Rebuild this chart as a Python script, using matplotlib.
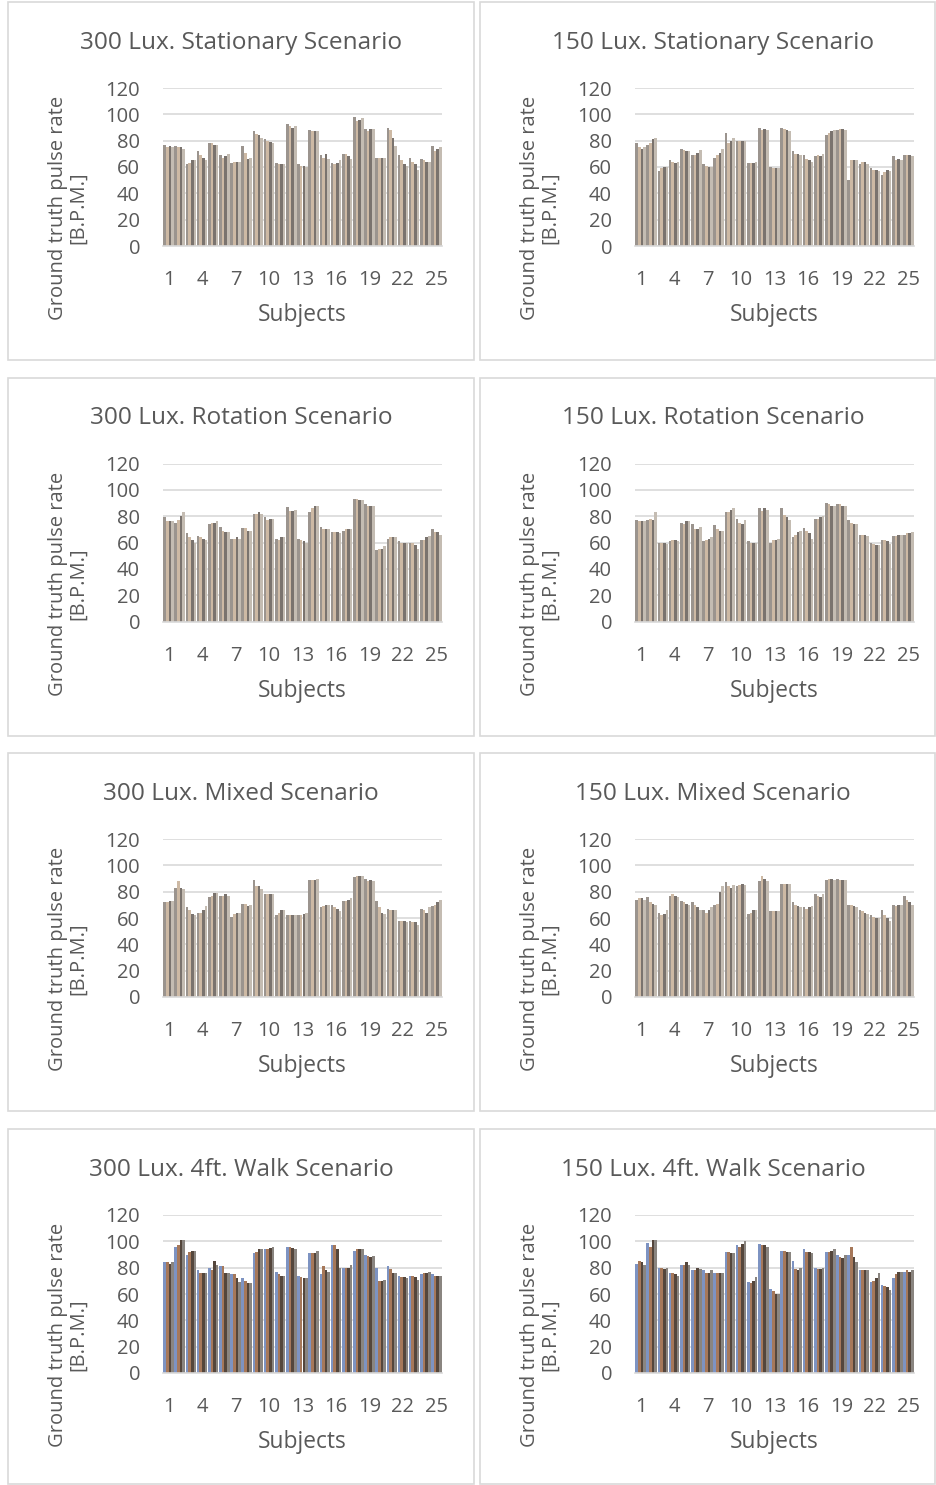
import numpy as np
import matplotlib.pyplot as plt
from matplotlib.patches import Rectangle

# ── Data: 25 subjects, 4 readings per subject ──────────────────────
subjects = list(range(1, 26))
tick_subjects = [1, 4, 7, 10, 13, 16, 19, 22, 25]

stat_300 = [
    [77, 75, 76, 75], [76, 75, 75, 74], [62, 63, 65, 65], [72, 69, 67, 65], [78, 78, 77, 77],
    [69, 67, 68, 70], [63, 64, 64, 64], [76, 71, 66, 67], [87, 85, 84, 82], [81, 80, 79, 78],
    [63, 62, 62, 62], [93, 91, 90, 91], [62, 61, 61, 60], [88, 87, 87, 87], [69, 67, 70, 66],
    [63, 62, 63, 65], [70, 70, 68, 66], [98, 95, 96, 97], [89, 87, 89, 89], [67, 67, 67, 67],
    [90, 88, 82, 76], [69, 65, 62, 61], [67, 64, 62, 58], [66, 65, 64, 64], [76, 72, 74, 75],
]
stat_150 = [
    [78, 75, 74, 75], [77, 78, 81, 82], [57, 59, 60, 60], [65, 64, 63, 64], [74, 73, 72, 72],
    [69, 69, 71, 73], [62, 61, 60, 60], [67, 69, 71, 74], [86, 78, 80, 82], [80, 80, 80, 80],
    [63, 63, 63, 64], [90, 88, 89, 88], [60, 59, 59, 59], [90, 89, 88, 87], [72, 70, 70, 69],
    [69, 66, 65, 64], [68, 69, 68, 70], [84, 86, 87, 88], [88, 89, 89, 88], [50, 65, 65, 65],
    [62, 64, 64, 62], [59, 58, 58, 57], [54, 56, 58, 57], [68, 65, 66, 65], [69, 69, 69, 68],
]
rot_300 = [
    [79, 76, 76, 76], [75, 77, 80, 83], [67, 64, 62, 60], [65, 64, 63, 62], [74, 75, 75, 76],
    [72, 69, 68, 68], [63, 63, 64, 63], [71, 71, 69, 69], [82, 82, 83, 82], [79, 77, 78, 78],
    [63, 62, 64, 64], [87, 84, 84, 85], [63, 62, 61, 60], [83, 86, 88, 88], [72, 70, 70, 70],
    [68, 68, 68, 67], [69, 70, 70, 70], [93, 93, 92, 92], [89, 88, 88, 88], [54, 55, 55, 57],
    [63, 64, 64, 64], [61, 60, 60, 60], [60, 60, 58, 55], [62, 62, 64, 65], [70, 68, 68, 66],
]
rot_150 = [
    [77, 76, 76, 76], [77, 78, 77, 83], [60, 60, 60, 59], [61, 62, 62, 61], [75, 74, 76, 76],
    [74, 70, 70, 72], [61, 62, 63, 64], [73, 70, 69, 69], [83, 83, 85, 86], [78, 75, 74, 77],
    [61, 60, 60, 60], [86, 84, 86, 85], [60, 62, 62, 63], [86, 81, 79, 77], [64, 66, 68, 69],
    [71, 69, 67, 63], [78, 78, 79, 80], [90, 89, 88, 88], [89, 89, 88, 88], [77, 75, 74, 74],
    [66, 66, 66, 65], [60, 59, 58, 58], [62, 62, 61, 59], [65, 65, 66, 66], [66, 67, 67, 68],
]
mix_300 = [
    [72, 72, 73, 73], [83, 88, 83, 82], [68, 66, 63, 62], [64, 64, 66, 69], [76, 77, 79, 79],
    [77, 77, 78, 77], [61, 63, 64, 64], [71, 71, 69, 70], [89, 84, 84, 82], [78, 78, 78, 78],
    [62, 64, 66, 66], [62, 62, 62, 62], [62, 62, 63, 64], [89, 89, 89, 90], [68, 69, 70, 70],
    [70, 68, 67, 65], [73, 73, 74, 75], [91, 92, 92, 92], [90, 88, 89, 88], [73, 68, 64, 63],
    [67, 66, 66, 66], [58, 58, 58, 57], [58, 57, 57, 55], [67, 66, 64, 68], [69, 70, 72, 74],
]
mix_150 = [
    [74, 75, 75, 74], [76, 72, 71, 70], [64, 62, 63, 66], [77, 78, 77, 76], [73, 72, 71, 70],
    [72, 70, 68, 66], [66, 64, 66, 68], [70, 71, 80, 84], [87, 84, 83, 85], [84, 85, 86, 85],
    [63, 64, 66, 66], [88, 92, 90, 88], [65, 65, 65, 65], [86, 86, 86, 86], [72, 70, 69, 68],
    [68, 67, 68, 69], [78, 77, 76, 78], [89, 90, 90, 89], [90, 89, 89, 89], [70, 70, 69, 68],
    [66, 65, 64, 63], [62, 61, 60, 60], [66, 62, 60, 58], [70, 69, 70, 70], [77, 74, 72, 70],
]
walk_300 = [
    [84, 84, 83, 84], [96, 97, 101, 101], [90, 92, 93, 93], [78, 76, 76, 76], [80, 78, 85, 82],
    [81, 81, 76, 76], [75, 75, 72, 69], [72, 70, 68, 68], [91, 92, 94, 94], [94, 94, 95, 96],
    [77, 75, 74, 74], [96, 96, 95, 94], [74, 73, 72, 72], [91, 91, 91, 93], [75, 81, 78, 77],
    [97, 97, 94, 80], [80, 80, 80, 82], [93, 94, 94, 94], [90, 89, 88, 89], [80, 70, 70, 71],
    [81, 79, 76, 76], [74, 73, 73, 72], [74, 74, 73, 71], [75, 76, 76, 77], [75, 74, 74, 74],
]
walk_150 = [
    [83, 85, 84, 82], [99, 96, 101, 101], [80, 80, 79, 80], [76, 76, 75, 74], [82, 82, 84, 82],
    [78, 78, 80, 79], [78, 76, 76, 78], [76, 76, 76, 76], [92, 92, 91, 91], [97, 96, 98, 100],
    [69, 68, 70, 73], [98, 97, 97, 96], [64, 62, 60, 60], [93, 93, 92, 92], [85, 79, 78, 80],
    [94, 92, 92, 91], [80, 79, 79, 80], [92, 92, 93, 94], [90, 88, 87, 90], [90, 96, 88, 84],
    [78, 78, 78, 78], [69, 70, 72, 76], [67, 66, 65, 63], [72, 75, 77, 77], [77, 78, 77, 78],
]

titles = [
    "300 Lux. Stationary Scenario", "150 Lux. Stationary Scenario",
    "300 Lux. Rotation Scenario", "150 Lux. Rotation Scenario",
    "300 Lux. Mixed Scenario", "150 Lux. Mixed Scenario",
    "300 Lux. 4ft. Walk Scenario", "150 Lux. 4ft. Walk Scenario",
]
panels = [stat_300, stat_150, rot_300, rot_150, mix_300, mix_150, walk_300, walk_150]

# ── Style ──────────────────────────────────
W, H = 936, 1485
TXT = "#595959"
GRID = "#d9d9d9"
MUTED = ["#9b948e", "#cdb9a4", "#7a736e", "#c4bcb2"]
WALK = ["#7d93c2", "#a6785a", "#54463c", "#8a8580"]

plt.rcParams["font.family"] = ["Open Sans", "DejaVu Sans"]

fig = plt.figure(figsize=(W / 100, H / 100), dpi=100)


def px_rect(x0, y0, x1, y1):
    return [x0 / W, 1 - y1 / H, (x1 - x0) / W, (y1 - y0) / H]


row_top = [88, 463.5, 839, 1215]
frame_y = [(2, 360), (378, 736), (753, 1111), (1129, 1484)]
col = [
    dict(frame=(8, 474), plot=(163, 442), title_x=241, ylab_x=68),
    dict(frame=(480, 935), plot=(635, 914), title_x=713, ylab_x=540),
]

for k, (vals, title) in enumerate(zip(panels, titles)):
    r, c = divmod(k, 2)
    cc = col[c]
    fy0, fy1 = frame_y[r]
    fig.patches.append(Rectangle((cc["frame"][0] / W, 1 - fy1 / H),
                                 (cc["frame"][1] - cc["frame"][0]) / W, (fy1 - fy0) / H,
                                 transform=fig.transFigure, fill=False,
                                 edgecolor=GRID, lw=1.2))

    top = row_top[r]
    ax = fig.add_axes(px_rect(cc["plot"][0], top, cc["plot"][1], top + 158))
    arr = np.array(vals)
    n = arr.shape[1]
    palette = WALK if r == 3 else MUTED
    bw = 0.94 / n
    x = np.array(subjects)
    for j in range(n):
        ax.bar(x - 0.47 + bw * (j + 0.5), arr[:, j], width=bw,
               color=palette[j % len(palette)], linewidth=0, zorder=2)

    ax.set_xlim(0.5, 25.5)
    ax.set_ylim(0, 120)
    ax.set_yticks(range(0, 121, 20))
    ax.set_xticks(tick_subjects)
    ax.grid(axis="y", color=GRID, lw=1.2, zorder=0)
    ax.set_axisbelow(True)
    for s in ["top", "right", "left"]:
        ax.spines[s].set_visible(False)
    ax.spines["bottom"].set_color(GRID)
    ax.spines["bottom"].set_linewidth(1.2)
    ax.tick_params(length=0, labelsize=14.5, colors=TXT)
    ax.tick_params(axis="y", pad=16.5)
    ax.tick_params(axis="x", pad=17.5)

    fig.text(cc["title_x"] / W, 1 - (top - 45) / H, title, ha="center", va="center",
             fontsize=17.6, color=TXT)
    fig.text((cc["plot"][0] + cc["plot"][1]) / 2 / W, 1 - (top + 227) / H, "Subjects",
             ha="center", va="center", fontsize=16.4, color=TXT)
    fig.text(cc["ylab_x"] / W, 1 - (top + 120) / H,
             "Ground truth pulse rate\n[B.P.M.]", ha="center", va="center",
             rotation=90, fontsize=14.5, color=TXT, linespacing=1.0)

fig.savefig("out.png", dpi=100)
